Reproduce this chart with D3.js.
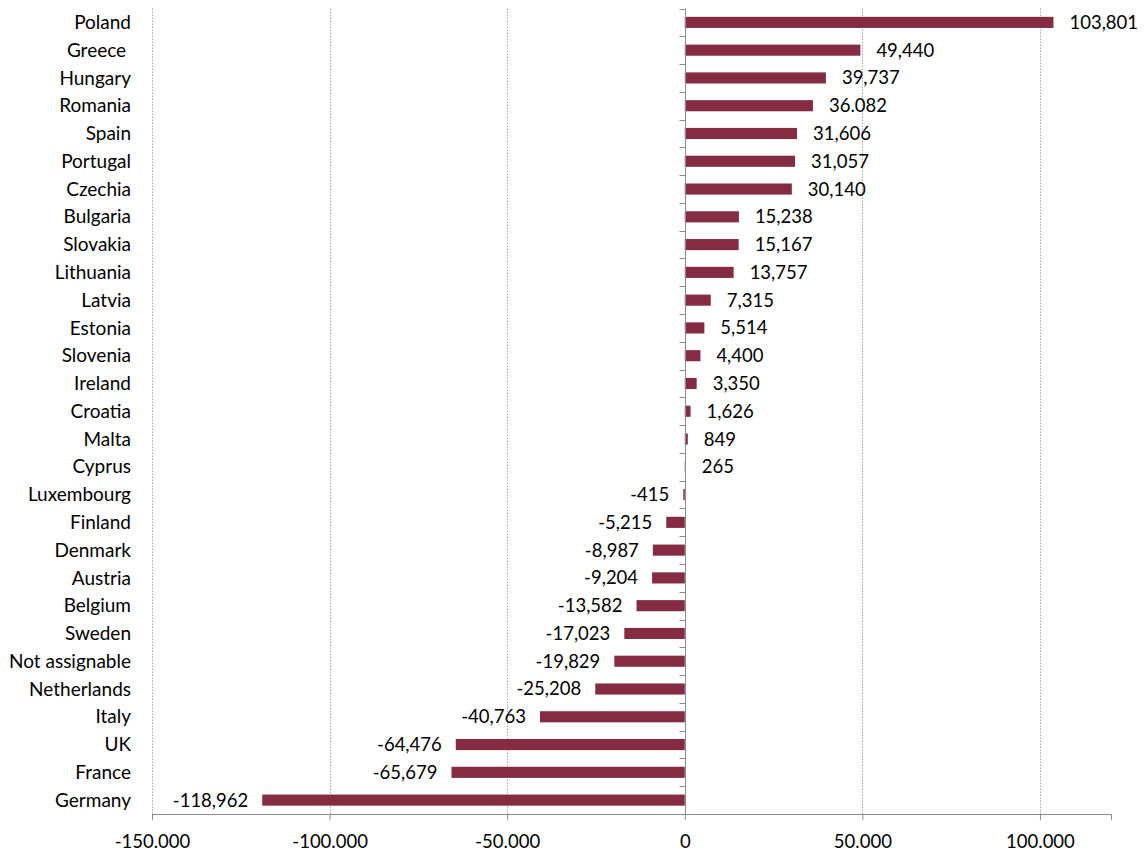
<!DOCTYPE html>
<html>
<head>
<meta charset="utf-8">
<script src="https://cdn.jsdelivr.net/npm/d3@7"></script>
<style>
  body { margin: 0; background: #fff; }
  svg { display: block; font-family: Lato, "Open Sans", sans-serif; }
</style>
</head>
<body>
<svg id="chart" width="1145" height="852"></svg>
<script>
// Net balance by country
const countries = ["Poland", "Greece ", "Hungary", "Romania", "Spain", "Portugal", "Czechia",
  "Bulgaria", "Slovakia", "Lithuania", "Latvia", "Estonia", "Slovenia", "Ireland", "Croatia",
  "Malta", "Cyprus", "Luxembourg", "Finland", "Denmark", "Austria", "Belgium", "Sweden",
  "Not assignable", "Netherlands", "Italy", "UK", "France", "Germany"];
const values = [103801, 49440, 39737, 36082, 31606, 31057, 30140, 15238, 15167, 13757, 7315,
  5514, 4400, 3350, 1626, 849, 265, -415, -5215, -8987, -9204, -13582, -17023, -19829, -25208,
  -40763, -64476, -65679, -118962];
const valueLabels = ["103,801", "49,440", "39,737", "36.082", "31,606", "31,057", "30,140",
  "15,238", "15,167", "13,757", "7,315", "5,514", "4,400", "3,350", "1,626", "849", "265",
  "-415", "-5,215", "-8,987", "-9,204", "-13,582", "-17,023", "-19,829", "-25,208", "-40,763",
  "-64,476", "-65,679", "-118,962"];
const xTicks = [-150000, -100000, -50000, 0, 50000, 100000];
const xTickLabels = ["-150.000", "-100.000", "-50.000", "0", "50.000", "100.000"];

const rows = countries.map((c, i) => ({ country: c, value: values[i], label: valueLabels[i] }));

const svg = d3.select("#chart");
const plotLeft = 152, plotRight = 1111, plotTop = 8.5, plotBottom = 814;
const fontSize = 18.5;
const categoryFontSize = 19;

const x = d3.scaleLinear().domain([-150000, 120000]).range([plotLeft, plotRight]);
const y = d3.scaleBand().domain(countries).range([plotTop, plotBottom]).paddingInner(0.6).paddingOuter(0.3);
const step = y.step();

// dotted vertical gridlines
svg.append("g").selectAll("line")
  .data(xTicks.filter(t => t !== 0))
  .join("line")
  .attr("x1", d => Math.round(x(d)) + 0.5).attr("x2", d => Math.round(x(d)) + 0.5)
  .attr("y1", plotTop).attr("y2", plotBottom)
  .attr("stroke", "#a6a6a6").attr("stroke-width", 1)
  .attr("stroke-dasharray", "1.5,1.5");

// bars
svg.append("g").selectAll("rect")
  .data(rows)
  .join("rect")
  .attr("x", d => x(Math.min(0, d.value)))
  .attr("width", d => Math.max(0.8, Math.abs(x(d.value) - x(0))))
  .attr("y", d => y(d.country))
  .attr("height", y.bandwidth())
  .attr("fill", "#852b42");

// x axis
const xAxis = d3.axisBottom(x).tickValues(xTicks)
  .tickFormat((d, i) => xTickLabels[i]).tickSizeOuter(0).tickSize(6);
const gx = svg.append("g").attr("transform", `translate(0,${plotBottom})`).call(xAxis);
gx.select(".domain").attr("stroke", "#8c8c8c");
gx.selectAll(".tick line").attr("stroke", "#8c8c8c");
gx.selectAll(".tick text").attr("font-size", fontSize).attr("fill", "#000")
  .attr("font-family", "Lato, 'Open Sans', sans-serif")
  .attr("y", 34).attr("dy", 0);

// zero line with category ticks
const zx = Math.round(x(0)) + 0.5;
svg.append("line").attr("x1", zx).attr("x2", zx).attr("y1", plotTop).attr("y2", plotBottom)
  .attr("stroke", "#8c8c8c");
svg.append("g").selectAll("line")
  .data(d3.range(countries.length + 1))
  .join("line")
  .attr("x1", zx - 6).attr("x2", zx)
  .attr("y1", i => Math.round(plotTop + i * step) + 0.5)
  .attr("y2", i => Math.round(plotTop + i * step) + 0.5)
  .attr("stroke", "#8c8c8c");

// category labels
svg.append("g").selectAll("text")
  .data(rows)
  .join("text")
  .attr("x", 131)
  .attr("y", d => y(d.country) + y.bandwidth() / 2)
  .attr("dy", "0.35em")
  .attr("text-anchor", "end")
  .attr("font-size", categoryFontSize)
  .style("white-space", "pre")
  .text(d => d.country);

// value labels
svg.append("g").selectAll("text")
  .data(rows)
  .join("text")
  .attr("x", d => d.value >= 0 ? x(d.value) + 16 : x(d.value) - 14)
  .attr("y", d => y(d.country) + y.bandwidth() / 2)
  .attr("dy", "0.35em")
  .attr("text-anchor", d => d.value >= 0 ? "start" : "end")
  .attr("font-size", fontSize)
  .text(d => d.label);
</script>
</body>
</html>
